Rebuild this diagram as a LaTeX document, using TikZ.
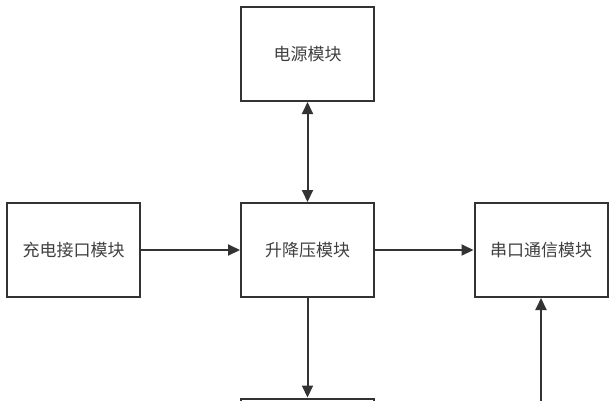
\documentclass[tikz,border=0pt]{standalone}
\usepackage{fontspec}
\setmainfont{Noto Sans CJK SC}
\usetikzlibrary{arrows.meta}
\definecolor{ln}{HTML}{333333}
\definecolor{tx}{HTML}{404040}
\begin{document}
\begin{tikzpicture}[x=1pt,y=-1pt,
  box/.style={draw=ln,line width=2pt,minimum width=133pt,minimum height=94pt,inner sep=0pt,
    font=\fontsize{17}{19}\selectfont,text=tx},
  conn/.style={draw=ln,line width=2pt,-{Triangle[length=12pt,width=11pt]}},
  bconn/.style={draw=ln,line width=2pt,{Triangle[length=12pt,width=11pt]}-{Triangle[length=12pt,width=11pt]}}]
\useasboundingbox (0,0) rectangle (615,400);
\clip (0,0) rectangle (615,400);
\fill[white] (0,0) rectangle (615,400);
\node[box] (pwr) at (307.5,54) {电源模块};
\node[box] (chg) at (73.5,250) {充电接口模块};
\node[box] (bb) at (307.5,250) {升降压模块};
\node[box] (ser) at (541,250) {串口通信模块};
\node[box] (bot) at (307.5,445.5) {};
\coordinate (src) at (541,420);
\draw[bconn] (pwr) -- (bb);
\draw[conn] (chg) -- (bb);
\draw[conn] (bb) -- (ser);
\draw[conn] (bb) -- (bot);
\draw[conn] (src) -- (ser);
\end{tikzpicture}
\end{document}
